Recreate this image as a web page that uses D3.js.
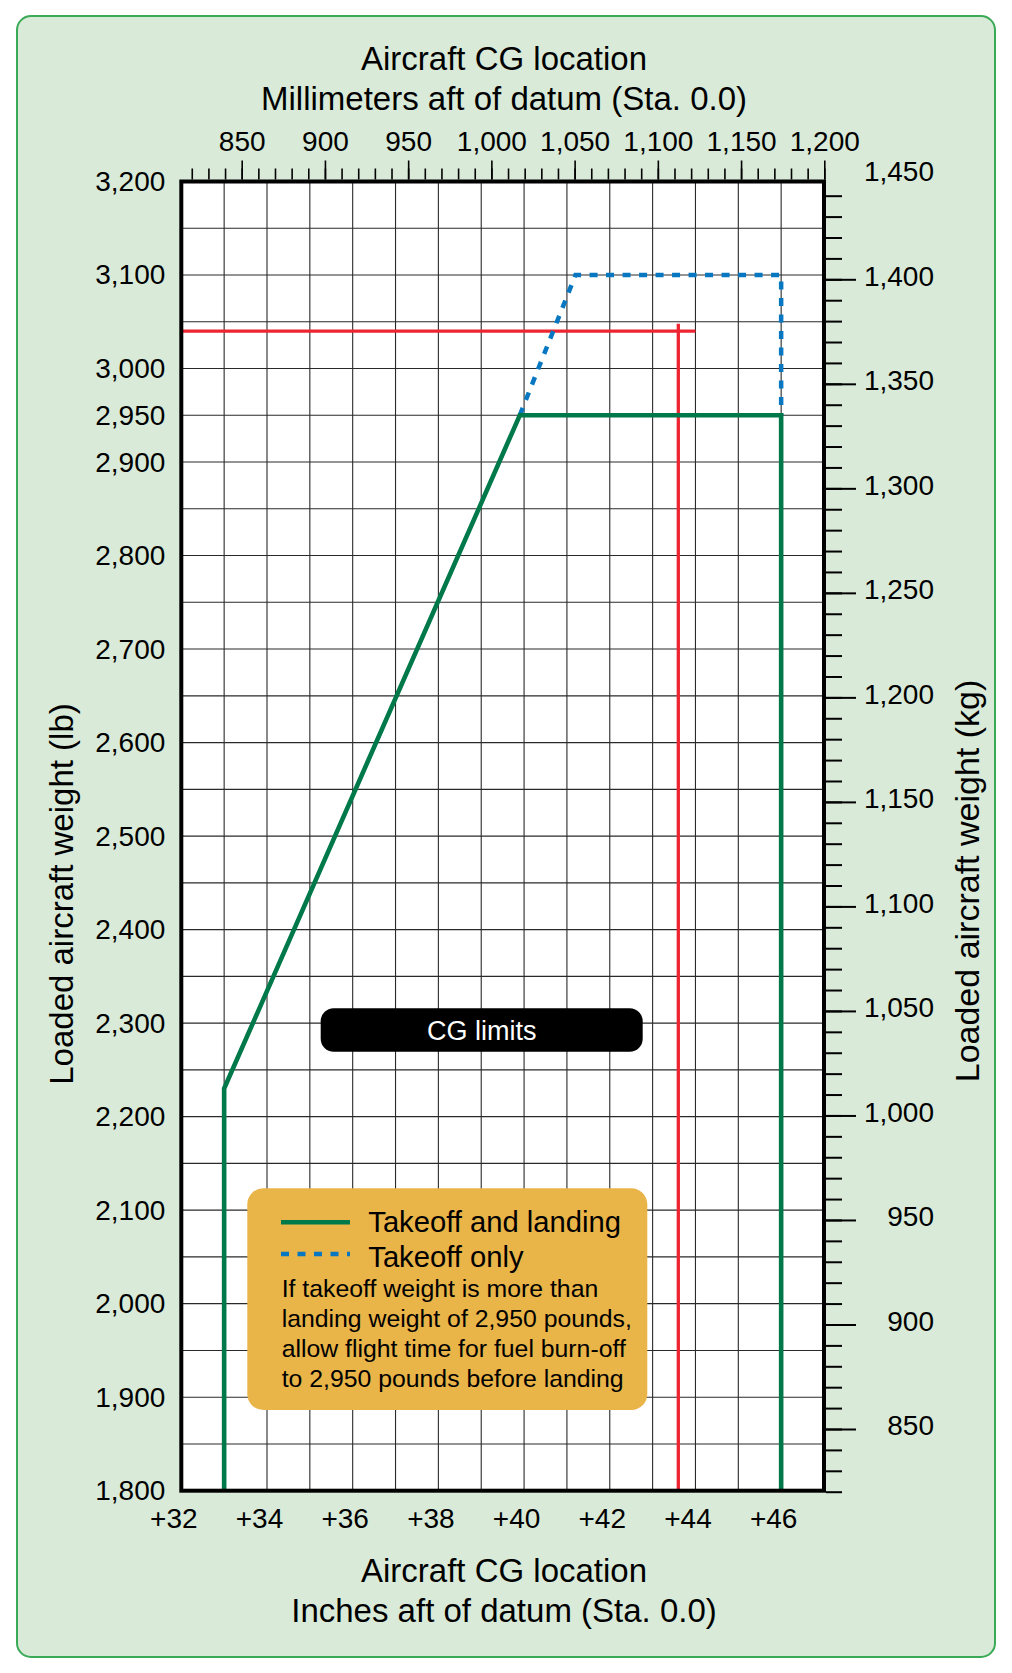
<!DOCTYPE html>
<html>
<head>
<meta charset="utf-8">
<script src="https://cdn.jsdelivr.net/npm/d3@7"></script>
<style>
  body { margin: 0; background: #fff; }
  svg { display: block; font-family: "Liberation Sans", Arial, sans-serif; }
</style>
</head>
<body>
<div id="chart"></div>
<script>
const width = 1012;
const height = 1673;

// tick labels
const inchTicks = [32, 34, 36, 38, 40, 42, 44, 46];
const lbTicks = [1800, 1900, 2000, 2100, 2200, 2300, 2400, 2500, 2600, 2700, 2800, 2900, 2950, 3000, 3100, 3200];
const mmTicks = [850, 900, 950, 1000, 1050, 1100, 1150, 1200];
const kgTicks = [850, 900, 950, 1000, 1050, 1100, 1150, 1200, 1250, 1300, 1350, 1400, 1450];

// envelope: [CG inches, weight lb]
const takeoffLanding = [[33, 1800], [33, 2230], [39.9, 2950], [46, 2950], [46, 1800]];
const takeoffOnly = [[39.9, 2950], [41.2, 3100], [46, 3100], [46, 2950]];
// example loading: weight line and CG line
const exampleWeight = [[32, 3040], [44, 3040]];
const exampleCG = [[43.6, 1800], [43.6, 3048]];

const noteLines = [
  "If takeoff weight is more than",
  "landing weight of 2,950 pounds,",
  "allow flight time for fuel burn-off",
  "to 2,950 pounds before landing"
];

const green = "#00794a";
const blue = "#0877c1";
const red = "#ee2530";

const svg = d3.select("#chart").append("svg").attr("width", width).attr("height", height);

// panel
svg.append("rect")
  .attr("x", 17).attr("y", 16).attr("width", 978).attr("height", 1641)
  .attr("rx", 14)
  .attr("fill", "#d9ebd8")
  .attr("stroke", "#3aaa57")
  .attr("stroke-width", 2);

// scales
const x = d3.scaleLinear().domain([32, 47]).range([181.3, 824]);
const y = d3.scaleLinear().domain([1800, 3200]).range([1490.7, 181.5]);
const mm = d3.scaleLinear().domain([850, 1200]).range([241.7, 824.3]);
const kg = d3.scaleLinear().domain([850, 1400]).range([1429, 279.3]);

// plot background
svg.append("rect")
  .attr("x", x(32)).attr("y", y(3200))
  .attr("width", x(47) - x(32)).attr("height", y(1800) - y(3200))
  .attr("fill", "#fff");

// grid
const grid = svg.append("g").attr("stroke", "#2a2a2a").attr("stroke-width", 1.1);
grid.selectAll(".vx").data(d3.range(33, 47)).enter().append("line")
  .attr("x1", (d) => x(d)).attr("x2", (d) => x(d))
  .attr("y1", y(3200)).attr("y2", y(1800));
grid.selectAll(".hy").data(d3.range(1850, 3200, 50)).enter().append("line")
  .attr("x1", x(32)).attr("x2", x(47))
  .attr("y1", (d) => y(d)).attr("y2", (d) => y(d));

const line = d3.line().x((d) => x(d[0])).y((d) => y(d[1]));

// red example lines
svg.append("path").datum(exampleWeight).attr("d", line)
  .attr("fill", "none").attr("stroke", red).attr("stroke-width", 3.3);
svg.append("path").datum(exampleCG).attr("d", line)
  .attr("fill", "none").attr("stroke", red).attr("stroke-width", 3.3);

// takeoff only (dashed)
svg.append("path").datum(takeoffOnly).attr("d", line)
  .attr("fill", "none").attr("stroke", blue).attr("stroke-width", 4.5)
  .attr("stroke-dasharray", "8,8.5");

// takeoff and landing
svg.append("path").datum(takeoffLanding).attr("d", line)
  .attr("fill", "none").attr("stroke", green).attr("stroke-width", 4.6)
  .attr("stroke-linejoin", "miter");

// CG limits label
svg.append("rect")
  .attr("x", 320.7).attr("y", 1008.3).attr("width", 322).attr("height", 43.4)
  .attr("rx", 13).attr("fill", "#000");
svg.append("text")
  .attr("x", 481.7).attr("y", 1040)
  .attr("text-anchor", "middle")
  .attr("fill", "#fff")
  .attr("font-size", 27)
  .text("CG limits");

// legend
const legend = svg.append("g");
legend.append("rect")
  .attr("x", 247.3).attr("y", 1188.3).attr("width", 400).attr("height", 221.7)
  .attr("rx", 16).attr("fill", "#e9b448");
legend.append("line")
  .attr("x1", 281).attr("x2", 350).attr("y1", 1222.3).attr("y2", 1222.3)
  .attr("stroke", green).attr("stroke-width", 4.6);
legend.append("line")
  .attr("x1", 281).attr("x2", 350).attr("y1", 1254).attr("y2", 1254)
  .attr("stroke", blue).attr("stroke-width", 4.5).attr("stroke-dasharray", "8,8.5");
legend.append("text").attr("x", 368.3).attr("y", 1232.3).attr("font-size", 29.2).text("Takeoff and landing");
legend.append("text").attr("x", 368.3).attr("y", 1266.7).attr("font-size", 29.2).text("Takeoff only");
legend.selectAll(".note").data(noteLines).enter().append("text")
  .attr("x", 281.7)
  .attr("y", (d, i) => 1296.7 + i * 30)
  .attr("font-size", 24.8)
  .text((d) => d);

// axes
function styleAxis(g) {
  g.select(".domain").remove();
  g.selectAll("text").attr("font-size", 28).attr("fill", "#000")
    .attr("font-family", "Liberation Sans, Arial, sans-serif");
  g.selectAll(".tick line").attr("stroke", "#000");
}

// left: lb
svg.append("g")
  .attr("transform", `translate(${x(32)},0)`)
  .call(d3.axisLeft(y).tickValues(lbTicks).tickSize(0).tickPadding(16).tickFormat(d3.format(",")))
  .call(styleAxis);

// bottom: inches
svg.append("g")
  .attr("transform", `translate(0,${y(1800)})`)
  .call(d3.axisBottom(x).tickValues(inchTicks).tickSize(0).tickPadding(17.7).tickFormat((d) => "+" + d))
  .call(styleAxis)
  .call((g) => g.selectAll("text").attr("dx", -8));

// top: mm
svg.append("g")
  .attr("transform", "translate(0,179.5)")
  .call(d3.axisTop(mm).tickValues(d3.range(820, 1201, 10)).tickSize(11).tickFormat(""))
  .call(styleAxis)
  .call((g) => g.selectAll(".tick line").attr("stroke-width", 1.6));
svg.append("g")
  .attr("transform", "translate(0,179.5)")
  .call(d3.axisTop(mm).tickValues(mmTicks).tickSize(19).tickPadding(9.8).tickFormat(d3.format(",")))
  .call(styleAxis)
  .call((g) => g.selectAll(".tick line").attr("stroke-width", 1.6));

// right: kg
svg.append("g")
  .attr("transform", "translate(826,0)")
  .call(d3.axisRight(kg).tickValues(d3.range(820, 1441, 10)).tickSize(16).tickFormat(""))
  .call(styleAxis)
  .call((g) => g.selectAll(".tick line").attr("stroke-width", 2));
svg.append("g")
  .attr("transform", "translate(826,0)")
  .call(d3.axisRight(kg).tickValues(kgTicks).tickSize(30).tickFormat(d3.format(",")))
  .call(styleAxis)
  .call((g) => g.selectAll(".tick line").attr("stroke-width", 2).filter((d) => d > 1440).remove())
  .call((g) => g.selectAll("text").attr("text-anchor", "end").attr("x", 108).attr("y", -3));

// plot border
svg.append("rect")
  .attr("x", x(32)).attr("y", y(3200))
  .attr("width", x(47) - x(32)).attr("height", y(1800) - y(3200))
  .attr("fill", "none").attr("stroke", "#000").attr("stroke-width", 4);

// titles
const titles = svg.append("g").attr("fill", "#000").attr("text-anchor", "middle");
titles.append("text").attr("x", 504).attr("y", 70).attr("font-size", 33).text("Aircraft CG location");
titles.append("text").attr("x", 504).attr("y", 110).attr("font-size", 33).text("Millimeters aft of datum (Sta. 0.0)");
titles.append("text").attr("x", 504).attr("y", 1581.7).attr("font-size", 33).text("Aircraft CG location");
titles.append("text").attr("x", 504).attr("y", 1621.7).attr("font-size", 33).text("Inches aft of datum (Sta. 0.0)");
titles.append("text")
  .attr("transform", "translate(73,894) rotate(-90)")
  .attr("font-size", 33).text("Loaded aircraft weight (lb)");
titles.append("text")
  .attr("transform", "translate(979,881) rotate(-90)")
  .attr("font-size", 34).text("Loaded aircraft weight (kg)");
</script>
</body>
</html>
